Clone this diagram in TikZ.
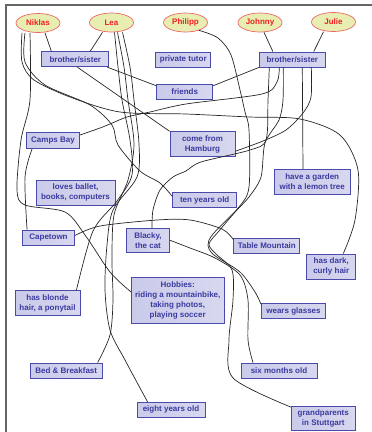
\documentclass[tikz,border=0pt]{standalone}
\usepackage{fontspec}
\setmainfont{Liberation Sans}
\usetikzlibrary{shapes.geometric}

\definecolor{personfill}{HTML}{E8EDB2}
\definecolor{personline}{HTML}{EE6666}
\definecolor{persontext}{HTML}{F02020}
\definecolor{factfill}{HTML}{CACAEA}
\definecolor{factline}{HTML}{4A4AAA}
\definecolor{facttext}{HTML}{3A3AA0}

\tikzset{
  person/.style={ellipse, draw=personline, line width=0.7pt, fill=personfill, text=persontext,
    font=\bfseries\fontsize{8}{9}\selectfont, minimum width=44pt, minimum height=19pt, inner sep=0pt},
  fact/.style={rectangle, draw=factline, line width=0.9pt, left color=factfill, right color=factfill!75,
    text=facttext, font=\bfseries\fontsize{8}{10}\selectfont, align=center, inner sep=0pt, minimum height=15pt},
  link/.style={black!85, line width=0.7pt}
}

\begin{document}
\begin{tikzpicture}[x=1pt,y=-1pt]
  \useasboundingbox (0,0) rectangle (372,432);

  % Rahmen
  \draw[line width=1.6pt, black!60] (6,432) -- (6,5) -- (372,5);

  % Personen
  \node[person] (niklas)  at (38,23)    {Niklas};
  \node[person] (lea)     at (111.5,22.5) {Lea};
  \node[person] (philipp) at (185.5,22.5) {Philipp};
  \node[person] (johnny)  at (260,22.5) {Johnny};
  \node[person] (julie)   at (333.5,22) {Julie};

  % Kaesten
  \node[fact, minimum width=67pt] (bsleft)   at (75.3,59.2)  {brother/sister};
  \node[fact, minimum width=55pt] (tutor)    at (183.3,59.5) {private tutor};
  \node[fact, minimum width=66pt] (bsright)  at (292.3,59.5) {brother/sister};
  \node[fact, minimum width=56pt] (friends)  at (184.7,91.7) {friends};
  \node[fact, minimum width=53pt, minimum height=16pt] (campsbay) at (53,140.5) {Camps Bay};
  \node[fact, minimum width=65pt, minimum height=25pt] (hamburg)  at (202.5,144.2) {come from\\Hamburg};
  \node[fact, minimum width=79pt, minimum height=25pt] (ballet)   at (75.5,192.5) {loves ballet,\\books, computers};
  \node[fact, minimum width=64pt] (tenyears) at (204.7,200.3) {ten years old};
  \node[fact, minimum width=76pt, minimum height=25pt] (garden)   at (312.2,181.8) {have a garden\\with a lemon tree};
  \node[fact, minimum width=52pt] (capetown) at (48.5,237.5) {Capetown};
  \node[fact, minimum width=43pt, minimum height=24pt] (blacky)   at (148,240.2) {Blacky,\\the cat};
  \node[fact, minimum width=66pt] (tablemt)  at (266.8,245.5) {Table Mountain};
  \node[fact, minimum width=49pt, minimum height=25pt] (curly)    at (331.3,266.5) {has dark,\\curly hair};
  \node[fact, minimum width=65pt, minimum height=25pt] (blonde)   at (47.5,303) {has blonde\\hair, a ponytail};
  \node[fact, minimum width=93pt, minimum height=46pt] (hobbies)  at (177.7,300.2) {Hobbies:\\riding a mountainbike,\\taking photos,\\playing soccer};
  \node[fact, minimum width=64pt] (glasses)  at (293.5,311.3) {wears glasses};
  \node[fact, minimum width=72pt] (bandb)    at (66.2,370.5) {Bed \& Breakfast};
  \node[fact, minimum width=76pt] (sixmonths) at (279,370.5) {six months old};
  \node[fact, minimum width=68pt] (eightyears) at (171,409.8) {eight years old};
  \node[fact, minimum width=64pt, minimum height=24pt] (grandparents) at (323.3,418.5) {grandparents\\in Stuttgart};

  % Verbindungen oben
  \draw[link] ([xshift=7pt]niklas.south) -- ([xshift=10pt]bsleft.north west);
  \draw[link] ([xshift=-9pt]lea.south) -- ([xshift=-19pt]bsleft.north east);
  \draw[link] ([xshift=4pt]johnny.south) -- ([xshift=14pt]bsright.north west);
  \draw[link] ([xshift=-10pt]julie.south) -- ([xshift=-12pt]bsright.north east);
  \draw[link] ([xshift=-2pt]bsleft.south east) -- ([yshift=-2pt]friends.north west);
  \draw[link] (bsright.south west) -- ([yshift=-2pt]friends.north east);
  \draw[link] ([xshift=36pt]bsleft.south west) -- (hamburg.north west);
  \draw[link] ([xshift=10pt]bsright.south) -- (garden.north -| 303,0);

  % Niklas
  \draw[link] plot[smooth] coordinates {([xshift=-8pt]niklas.south) (30,100) (21,140) (17,190)
    (25,205) (65,212) (85,235) (110,272) ([yshift=-15pt]hobbies.north west)};
  \draw[link] plot[smooth] coordinates {([xshift=-16pt]niklas.south) (22,62) (34,80) (70,97)
    (120,112) (186,114) (250,117) (300,119) (340,135) (358,170) (355,220) ([xshift=12pt]curly.north)};
  \draw[link] plot[smooth] coordinates {([xshift=-13pt]niklas.south) (25,62) (45,85) (90,105)
    (112,125) (118,145) (140,171) (160,183) ([yshift=-4pt]tenyears.north west)};

  % Lea
  \draw[link] plot[smooth] coordinates {([xshift=3pt]lea.south) (118,67) (122,100) (130,140)
    (132,175) (117,201) (93,231) ([xshift=-4pt]blonde.north east)};
  \draw[link] plot[smooth] coordinates {([xshift=11pt]lea.south) (130,67) (134,100) (139,144)
    (137,177) (113,210) (107,245) (105,290) (110,330) (125,360) ([xshift=11pt]eightyears.north west)};
  \draw[link] plot[smooth] coordinates {([xshift=6pt]lea.south) (124,67) (128,100) (134,144)
    (128,180) (114,215) (112,260) (113,300) (110,335) ([xshift=-5pt]bandb.north east)};

  % Philipp
  \draw[link] plot[smooth] coordinates {(philipp.-30) (218,38) (231,55) (240,90) (245,112)
    (249,130) (249,187) (239,207) (213,234) (208,245) (214,255) (240,272) (255,292) ([yshift=-1pt]glasses.north west)};

  % Johnny und Julie
  \draw[link] plot[smooth] coordinates {([xshift=-13pt]bsright.south) (277,82) (262,94) (186,104)
    (150,112) (127,117) (110,124) (100,128) ([yshift=-3pt]campsbay.north east)};
  \draw[link] plot[smooth] coordinates {([xshift=-23pt]bsright.south) (268,100) (266,140) (250,150)
    (201,162) (186,171) (173,177) (160,190) (153,210) ([xshift=4pt]blacky.north)};
  \draw[link] plot[smooth] coordinates {([xshift=-9pt]bsright.south) (283,100) (279,120) (265,143)
    (261,177) (249,197) (236,211) (219,231) (209,244) (216,254) (232,270) (233,300) (229,340)
    (233,378) ([yshift=-1pt]grandparents.north west)};
  \draw[link] plot[smooth] coordinates {([xshift=19pt]bsright.south) (311,97) (303,113) (286,130)
    (263,141) ([yshift=-7pt]hamburg.east)};
  \draw[link] plot[smooth] coordinates {(blacky.east) (190,248) (215,258) (240,275) (248,300)
    (248,340) ([xshift=-26pt]sixmonths.north)};

  % Kapstadt
  \draw[link] plot[smooth] coordinates {([xshift=6pt]campsbay.south west) (25,177) ([xshift=5pt]capetown.north west)};
  \draw[link] plot[smooth] coordinates {([yshift=2pt]capetown.east) (100,226) (157,220) (190,220)
    (222,229) ([yshift=-2pt]tablemt.north west)};
\end{tikzpicture}
\end{document}
